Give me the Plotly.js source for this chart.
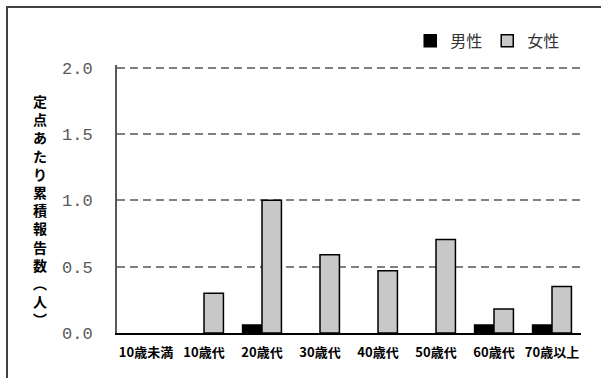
<!DOCTYPE html>
<html>
<head>
<meta charset="utf-8">
<script src="https://cdn.plot.ly/plotly-3.0.1.min.js"></script>
<style>
  html, body { margin: 0; padding: 0; background: #fff; }
  #chart { width: 601px; height: 378px; position: relative; }
  #frame { position: absolute; left: 6px; top: 6px; width: 620px; height: 400px; border: 2px solid #404040; box-sizing: border-box; pointer-events: none; }
</style>
</head>
<body>
<div id="chart"></div>
<div id="frame"></div>
<script>
const categories = ['10歳未満', '10歳代', '20歳代', '30歳代', '40歳代', '50歳代', '60歳代', '70歳以上'];
const maleValues = [0, 0, 0.06, 0, 0, 0, 0.06, 0.06];
const femaleValues = [0, 0.3, 1.0, 0.59, 0.47, 0.705, 0.18, 0.35];
const seriesNames = ['男性', '女性'];
const yTicks = [0, 0.5, 1.0, 1.5, 2.0];
const yTitle = '定点あたり累積報告数︵人︶';

// zero-height bars are not drawn (no outline) in the reference
function hideZero(vals) { return vals.map(v => v > 0 ? v : null); }

const traces = [
  { type: 'bar', name: seriesNames[0], x: categories, y: hideZero(maleValues),
    marker: { color: '#000000', line: { color: '#000000', width: 1.5 } } },
  { type: 'bar', name: seriesNames[1], x: categories, y: hideZero(femaleValues),
    marker: { color: '#c8c8c8', line: { color: '#000000', width: 1.5 } } }
];

const layout = {
  width: 601, height: 378,
  margin: { l: 117, r: 20, t: 65, b: 45 },
  paper_bgcolor: '#ffffff', plot_bgcolor: '#ffffff',
  barmode: 'group', bargap: 0.33, bargroupgap: 0,
  showlegend: true,
  legend: { orientation: 'h', x: 0.966, xanchor: 'right', y: 1.09, yanchor: 'middle',
    font: { family: 'Noto Sans CJK JP', size: 16, color: '#333333' },
    bgcolor: 'rgba(0,0,0,0)', itemwidth: 30, traceorder: 'normal' },
  xaxis: {
    type: 'category', showline: true, linecolor: '#000000', linewidth: 2,
    ticks: '', showgrid: false, zeroline: false,
    tickfont: { family: 'Noto Sans CJK JP', size: 13, color: '#000000', weight: 'bold' },
    ticklabelstandoff: 6, fixedrange: true
  },
  yaxis: {
    range: [0, 2.02], tickvals: yTicks, tickformat: '.1f',
    showline: true, linecolor: '#595959', linewidth: 2,
    showgrid: true, gridcolor: '#808080', gridwidth: 2, griddash: '8px,5px',
    zeroline: false, ticks: '',
    tickfont: { family: 'Liberation Mono', size: 17, color: '#595959' },
    ticklabelstandoff: 19, fixedrange: true
  },
  annotations: [{
    xref: 'paper', yref: 'paper', x: -0.165, y: 0.46, xanchor: 'center', yanchor: 'middle',
    text: Array.from(yTitle).join('<br>'), showarrow: false,
    font: { family: 'Noto Sans CJK JP', size: 14, color: '#000000', weight: 'bold' }
  }]
};

Plotly.newPlot('chart', traces, layout, { displayModeBar: false, staticPlot: true });
</script>
</body>
</html>
